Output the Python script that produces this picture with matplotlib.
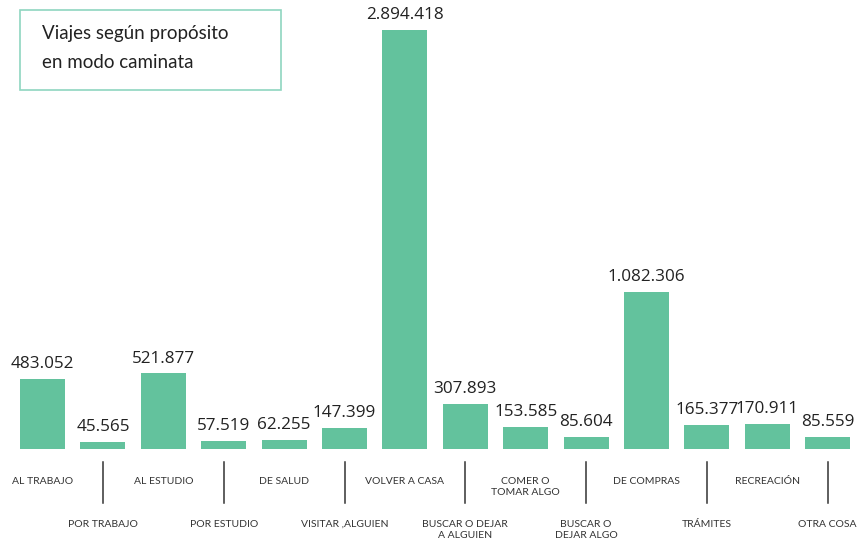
import matplotlib
matplotlib.use("Agg")
import matplotlib.pyplot as plt
from matplotlib.patches import Rectangle

categories = ["AL TRABAJO", "POR TRABAJO", "AL ESTUDIO", "POR ESTUDIO", "DE SALUD",
              "VISITAR ,ALGUIEN", "VOLVER A CASA", "BUSCAR O DEJAR\nA ALGUIEN",
              "COMER O\nTOMAR ALGO", "BUSCAR O\nDEJAR ALGO", "DE COMPRAS", "TRÁMITES",
              "RECREACIÓN", "OTRA COSA"]
values = [483052, 45565, 521877, 57519, 62255, 147399, 2894418, 307893,
          153585, 85604, 1082306, 165377, 170911, 85559]
title = "Viajes según propósito\nen modo caminata"

W, H = 860, 544
fig = plt.figure(figsize=(W / 100, H / 100), dpi=100)
ax = fig.add_axes([0, 0, 1, 1])
ax.axis("off")

step = 60.4
x0 = 42.5
ax.set_xlim(-x0 / step, (W - x0) / step)
ypp = 2894418 / 419.0
ax.set_ylim(-95 * ypp, (H - 95) * ypp)

bar_color = "#63c29d"
xs = list(range(len(values)))
ax.bar(xs, values, width=45 / step, color=bar_color)

def fmt(v):
    return f"{v:,}".replace(",", ".")

for x, v in zip(xs, values):
    ax.annotate(fmt(v), (x, v), xytext=(0, 5), textcoords="offset points",
                ha="center", va="bottom", fontsize=12.3, color="#222222",
                family="Open Sans")

tr = ax.get_xaxis_transform()
def yfrac(py):
    return 1 - py / H

for i, (x, c) in enumerate(zip(xs, categories)):
    if i % 2 == 0:
        ax.text(x, yfrac(477), c, transform=tr, ha="center", va="top",
                fontsize=7.5, color="#333333", family="Lato", linespacing=1.3)
    else:
        ax.text(x, yfrac(520), c, transform=tr, ha="center", va="top",
                fontsize=7.5, color="#333333", family="Lato", linespacing=1.3)
        ax.plot([x, x], [yfrac(462), yfrac(503)], transform=tr,
                color="#333333", lw=1.1)

# title box
box = Rectangle((20 / W, 1 - 90 / H), 261 / W, 80 / H, transform=fig.transFigure,
                fill=False, edgecolor="#8fd6c0", lw=1.2)
fig.add_artist(box)
fig.text(42 / W, 1 - 25 / H, title, ha="left", va="top", fontsize=13.5,
         color="#222222", family="Lato", linespacing=1.85)

fig.savefig("out.png", dpi=100)
